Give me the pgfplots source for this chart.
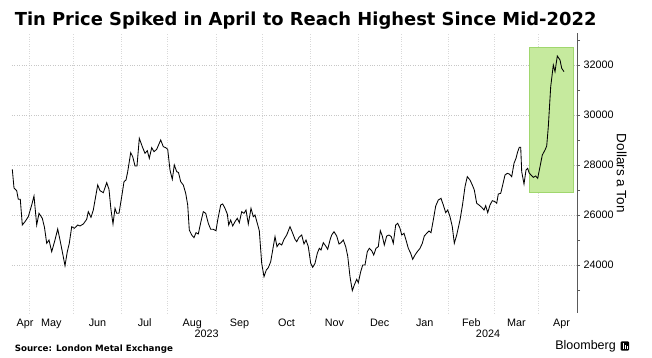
\documentclass[border=0pt]{standalone}
\usepackage{pgfplots}
\pgfplotsset{compat=1.18}
\usepackage{fontspec}
\setmainfont{Liberation Sans}
\newfontfamily\dejavu{DejaVu Sans}
\definecolor{hlfill}{RGB}{198,234,158}
\definecolor{hldraw}{RGB}{160,215,110}
\definecolor{axgray}{RGB}{90,90,90}
\begin{document}
\begin{tikzpicture}[x=1pt,y=1pt]
\begin{axis}[
  scale only axis, width=565pt, height=280pt,
  xmin=12, xmax=577, ymin=22080, ymax=33280,
  axis line style={draw=none},
  scaled y ticks=false,
  ytick={24000,26000,28000,30000,32000},
  minor ytick={23000,25000,27000,29000,31000,33000},
  ytick pos=right, yticklabel pos=right, tick align=outside,
  major tick length=3pt, minor tick length=3pt,
  y tick style={draw=axgray, line width=0.6pt},
  ymajorgrids, xmajorgrids,
  y grid style={dotted, line width=0.7pt, black!22},
  x grid style={dotted, line width=0.6pt, black!15},
  xtick={29.3,73.3,121.7,167.7,216.7,262.3,310.7,358.3,401,448.3,494.3,538.3},
  xticklabels={},
  x tick style={draw=none},
  yticklabel style={font=\fontsize{10.8}{12}\selectfont, /pgf/number format/1000 sep={}, /pgf/number format/assume math mode=true},
]
\coordinate (O) at (rel axis cs:0,0);
\addplot[fill=hlfill, draw=hldraw, line width=0.6pt] coordinates {(529,26907) (573.3,26907) (573.3,32707) (529,32707) (529,26907)};
\addplot[black, line width=0.85pt] table[x=x, y=y] {
x y
12.3 27827
14 27080
16.7 26970
18.3 26627
20.3 26627
22.3 25600
25 25733
28.3 25933
31.7 26400
34 26760
36.7 25600
39 26067
42.3 25867
44.5 25500
46.7 24867
49 25000
51.7 24533
55 25000
57.7 25440
60 25000
62.3 24533
65 23973
67.3 24533
69.3 24867
71.7 25533
74.3 25467
77.7 25600
80 25560
83.3 25640
86.7 25827
88.3 26133
91 25907
93.3 26200
95.5 26700
97.7 27200
100 26973
103.3 26893
106.7 27293
109 27027
111 26200
113 25640
115 26267
116.7 26067
119 26067
121.7 26733
124 27333
126 27400
127.7 27733
130.7 28493
132.7 28333
135 27960
137 27960
139.3 29067
142.3 28733
145 28467
147.3 28573
149.3 28267
151.7 28693
154 28533
156.7 28627
160.7 29000
163.3 28733
165.7 28693
167.7 28627
170 27800
172.3 27427
174.3 28000
176.7 27733
178.5 27700
180.7 27333
183.3 27200
185.7 26867
187.7 26400
189.3 25400
191.7 25200
194 25093
196 25293
198.3 25240
200.7 25693
203.3 26133
205.7 26067
208.3 25667
210.7 25427
213.3 25427
216 25373
217.7 25800
220.7 26400
222.7 26440
225 26267
227.3 26040
228.7 25600
230.7 25800
232.7 25560
235 25733
237.3 25867
239.3 25693
241.7 26133
244 26067
246 26200
248.3 25640
251 26267
253.3 25933
255 26000
257.3 25667
259.3 25373
261.7 24067
264 23533
266.3 23800
268.3 23893
270.7 24133
272.7 24600
275 25133
277 24733
279.3 24867
281.7 24800
284 25027
286.7 25200
290 25533
292.7 25267
295 25027
296.7 24933
299 25107
301.7 25200
304 24840
306 25000
308.3 24733
310.7 24067
312.7 23907
315 24067
317.3 24467
319.3 24667
321 24600
323.3 24893
325.7 24760
327.7 24627
330 25000
331.7 25200
334 25333
336.7 25160
339 24840
341 24893
343.3 25000
345.7 24733
347.7 24360
350 23533
352.3 22973
354.3 23200
356.7 23427
358.3 23293
360.7 23733
362.7 24000
365 24000
367.3 24533
369.3 24667
371.7 24573
373.7 24400
376 24667
378.3 24733
380.3 25373
382.3 25160
384.3 24800
386.7 25160
389 25200
391.3 25133
393.3 24867
395.7 25600
397.7 25667
400 25467
401.7 25200
404 25267
406 25000
408.3 24667
410.7 24467
412.7 24227
415 24400
417.3 24533
420 24667
422.3 24867
424.3 25160
426.7 25267
429 25360
431 25293
433.3 25800
435.7 26360
438.3 26600
441 26667
443.3 26400
445.7 26093
447.7 26200
450 25933
452.3 25533
454.3 24867
456.7 25200
460 25800
462.5 26400
465 27133
467.3 27533
470 27400
472.3 27200
474.3 27000
476.7 26467
479 26400
481.7 26307
484 26200
485.7 26373
487.7 26093
490 26400
492.3 26573
495 26533
496.7 26467
498.3 26840
500.7 26867
502.3 27133
505 27600
507.3 27667
509.3 27640
511.7 27533
514 28067
516 28267
517.7 28533
519.3 28707
520.7 28707
521.7 27733
524 27240
526 27800
527.7 27867
529 27693
531 27600
533.3 27507
535.7 27560
537.7 27467
540 27933
542.3 28400
545 28600
546.7 28760
548.3 29533
550.7 31133
553.3 32000
555 31733
557.3 32360
560 32200
561.7 31867
564 31733
};
\end{axis}
\begin{scope}[shift={(O)}, xshift=-12pt, yshift=-45pt]
\path[use as bounding box] (0,0) rectangle (652,358);
\node[anchor=base west, inner sep=0, font=\dejavu\bfseries\fontsize{17.9}{20}\selectfont] at (14.6,332) {Tin Price Spiked in April to Reach Highest Since Mid-2022};
\draw[axgray, line width=0.8pt] (577,45) -- (577,325);
\begin{scope}[every node/.style={anchor=base, inner sep=0, font=\fontsize{10.8}{12}\selectfont}]
\node at (25,32) {Apr};
\node at (51.3,32) {May};
\node at (97.5,32) {Jun};
\node at (144.7,32) {Jul};
\node at (192.2,32) {Aug};
\node at (239.5,32) {Sep};
\node at (286.5,32) {Oct};
\node at (334.5,32) {Nov};
\node at (379.7,32) {Dec};
\node at (424.7,32) {Jan};
\node at (471.3,32) {Feb};
\node at (516.3,32) {Mar};
\node at (561.5,32) {Apr};
\node at (206.7,20.7) {2023};
\node at (488,20.7) {2024};
\end{scope}
\node[rotate=-90, inner sep=0, font=\fontsize{13.5}{15}\selectfont] at (621.7,184.7) {Dollars a Ton};
\node[anchor=base west, inner sep=0, font=\dejavu\bfseries\fontsize{8.7}{10}\selectfont] at (14.6,6.5) {Source: London Metal Exchange};
\node[anchor=base east, inner sep=0, font=\fontsize{12.5}{14}\selectfont] at (616,8) {Bloomberg};
\fill[black, rounded corners=1pt] (620.5,7.5) rectangle (629,16.5);
\fill[white] (622.5,9) rectangle (623.5,14.5);
\fill[white] (624.5,9) rectangle (625.5,13);
\fill[white] (626.5,9) rectangle (627.2,12);
\end{scope}
\end{tikzpicture}
\end{document}
